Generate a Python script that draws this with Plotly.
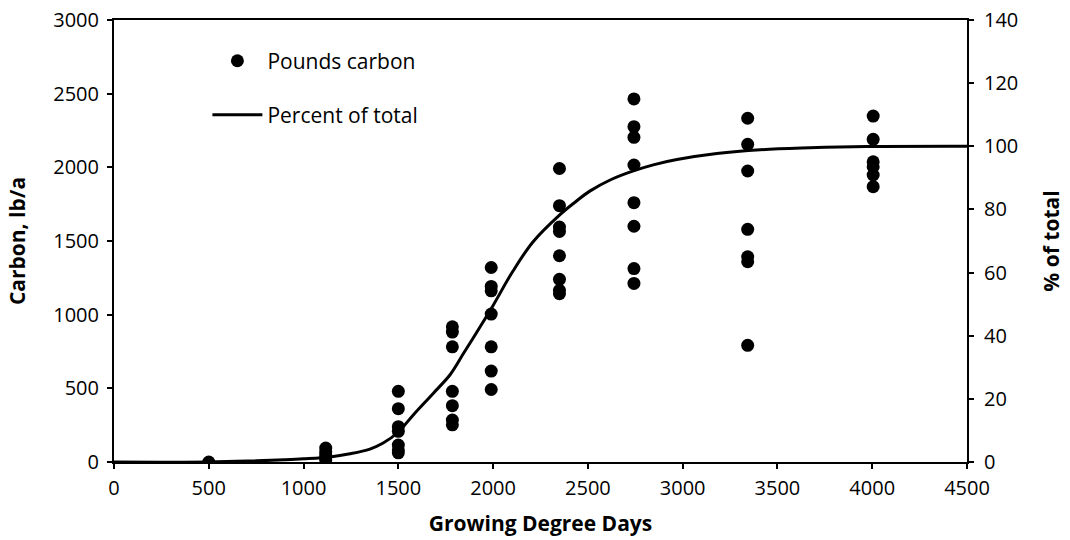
import plotly.graph_objects as go

# Scatter data: growing degree days vs pounds carbon
gdd_500 = [500]
c_500 = [0]
gdd_1120 = [1117] * 5
c_1120 = [95, 70, 50, 30, 15]
gdd_1500 = [1500] * 7
c_1500 = [480, 362, 240, 208, 115, 82, 62]
gdd_1785 = [1785] * 7
c_1785 = [918, 882, 782, 480, 382, 285, 252]
gdd_1990 = [1990] * 7
c_1990 = [1320, 1192, 1162, 1004, 782, 617, 492]
gdd_2350 = [2350] * 8
c_2350 = [1992, 1740, 1595, 1565, 1400, 1240, 1165, 1142]
gdd_2743 = [2743] * 8
c_2743 = [2464, 2276, 2204, 2016, 1760, 1600, 1313, 1212]
gdd_3343 = [3343] * 7
c_3343 = [2333, 2156, 1975, 1579, 1393, 1359, 792]
gdd_4005 = [4005] * 6
c_4005 = [2348, 2190, 2038, 2004, 1948, 1869]

gdd = gdd_500 + gdd_1120 + gdd_1500 + gdd_1785 + gdd_1990 + gdd_2350 + gdd_2743 + gdd_3343 + gdd_4005
carbon = c_500 + c_1120 + c_1500 + c_1785 + c_1990 + c_2350 + c_2743 + c_3343 + c_4005

# Percent-of-total curve
curve_gdd = [0, 500, 720, 900, 1000, 1140, 1245, 1350, 1420, 1500, 1580, 1685, 1775, 1845,
             1930, 2000, 2105, 2210, 2350, 2430, 2510, 2620, 2740, 2850, 2970, 3180, 3410,
             3670, 3970, 4500]
curve_pct = [0, 0, 0.3, 0.7, 1.0, 1.6, 2.6, 4.1, 6.0, 9.5, 15.0, 21.8, 27.8, 34.5,
             42.7, 49.6, 60.5, 69.7, 78.2, 82.2, 85.8, 89.4, 92.2, 94.2, 95.8, 97.7, 98.9,
             99.5, 99.9, 100]

FONT = "Open Sans"

fig = go.Figure()
fig.add_trace(go.Scatter(
    x=gdd, y=carbon, mode="markers", name="Pounds carbon",
    marker=dict(color="black", size=13, line=dict(width=0)),
    legend="legend",
))
fig.add_trace(go.Scatter(
    x=curve_gdd, y=curve_pct, mode="lines", name="Percent of total",
    line=dict(color="black", width=3, shape="spline", smoothing=1.0),
    yaxis="y2", legend="legend2",
))

axis_common = dict(
    showgrid=False, zeroline=False, showline=True, linecolor="black", linewidth=2,
    ticks="outside", ticklen=5, tickwidth=1.5, tickcolor="black", automargin=False,
    tickfont=dict(family=FONT, size=20, color="black"),
)
title_font = dict(family=FONT, size=21, color="black")

fig.update_layout(
    width=1070, height=540,
    margin=dict(l=114, r=103, t=20, b=78),
    paper_bgcolor="white", plot_bgcolor="white",
    font=dict(family=FONT, color="black"),
    xaxis=dict(range=[0, 4500], dtick=500, mirror=True, ticklabelstandoff=2,
               title=dict(text="<b>Growing Degree Days</b>", font=title_font, standoff=16),
               **axis_common),
    yaxis=dict(range=[0, 3000], dtick=500, ticklabelstandoff=4,
               title=dict(text="<b>Carbon, lb/a</b>", font=title_font, standoff=22),
               **axis_common),
    yaxis2=dict(range=[0, 140], dtick=20, overlaying="y", side="right", ticklabelstandoff=6,
                title=dict(text="<b>% of total</b>", font=title_font, standoff=27),
                **axis_common),
    legend=dict(x=0.1095, y=0.907, xanchor="left", yanchor="middle", itemwidth=50,
                bgcolor="rgba(0,0,0,0)", font=dict(family=FONT, size=21, color="black")),
    legend2=dict(x=0.1095, y=0.785, xanchor="left", yanchor="middle", itemwidth=50,
                 bgcolor="rgba(0,0,0,0)", font=dict(family=FONT, size=21, color="black")),
    showlegend=True,
)

fig.write_html("out.html", config={"displayModeBar": False},
               post_script="document.body.style.margin='0px';")
